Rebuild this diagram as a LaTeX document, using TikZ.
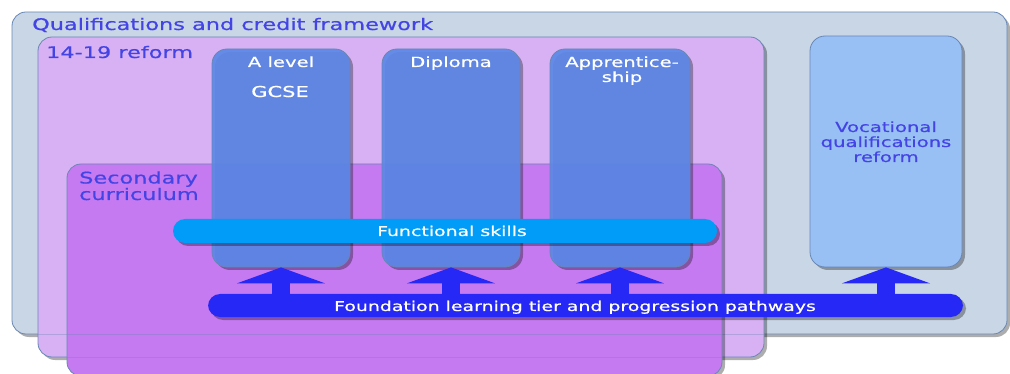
\documentclass[tikz,border=0pt]{standalone}
\usepackage{fontspec}
\usetikzlibrary{positioning,shadows,arrows.meta}

\newfontfamily\diagfont[FakeStretch=1.4,FakeBold=0.6]{DejaVu Sans}

\definecolor{qcfcol}{RGB}{201,214,230}
\definecolor{qcfline}{RGB}{105,135,180}
\definecolor{reformcol}{RGB}{216,177,245}
\definecolor{seccol}{RGB}{198,122,241}
\definecolor{quallcol}{RGB}{92,136,232}
\definecolor{voccol}{RGB}{152,192,245}
\definecolor{skillcol}{RGB}{0,156,247}
\definecolor{foundcol}{RGB}{38,40,246}
\definecolor{labelcol}{RGB}{68,68,228}

\begin{document}
\begin{tikzpicture}[x=1pt,y=-1pt,
    shade box/.style={drop shadow={shadow xshift=3pt,shadow yshift=-3pt,fill=black,opacity=0.32}},
    box/.style={draw=qcfline,line width=0.8pt,rounded corners=14pt,shade box,inner sep=0pt},
    column/.style={box,fill=quallcol,fill opacity=0.92,rounded corners=15pt,minimum width=138pt,minimum height=218pt},
    bar/.style={rounded corners=12pt,shade box,inner sep=0pt,minimum height=24pt},
    uparrow/.style={foundcol,line width=18pt,-{Triangle[width=88pt,length=16pt]}},
    txt/.style={font=\diagfont\fontsize{14}{15}\selectfont,inner sep=0pt},
    bluetxt/.style={txt,text=labelcol},
    whitetxt/.style={txt,text=white}]
  \useasboundingbox (0,0) rectangle (1010,374);

  % nested frameworks
  \node[box,fill=qcfcol,minimum width=995pt,minimum height=322pt] (qcf) at (509.5,173) {};
  \node[box,fill=reformcol,minimum width=726pt,minimum height=320pt] (reform) at (401,197) {};
  \draw[qcfline,opacity=0.35] (reform.west |- qcf.south) -- (reform.east |- qcf.south);
  \node[box,fill=seccol,minimum width=655pt,minimum height=212pt] (second) at (394.5,270) {};
  \draw[qcfline,opacity=0.35] (second.west |- reform.south) -- (second.east |- reform.south);
  \draw[qcfline,opacity=0.35] (second.west |- qcf.south) -- (second.east |- qcf.south);

  % qualification columns
  \node[column] (alevel) at (281,158) {};
  \node[column] (diploma) at (451,158) {};
  \node[column,minimum width=140pt] (apprent) at (620,158) {};
  \node[box,fill=voccol,rounded corners=15pt,minimum width=152pt,minimum height=231pt] (vocation) at (886,151.5) {};

  % cross-cutting bars
  \node[bar,fill=skillcol,minimum width=544pt] (skills) at (445,231) {};
  \node[bar,fill=foundcol,minimum width=755pt,minimum height=23pt] (found) at (585.5,305.5) {};

  \foreach \col in {alevel,diploma,apprent,vocation}
    \draw[uparrow] (found.north -| \col.south) -- (\col.south);

  % labels (base of a multi-line label is its last line)
  \node[bluetxt,anchor=base west,font=\diagfont\fontsize{16}{16}\selectfont] (qcflabel) at (32,30) {Qualifications and credit framework};
  \node[bluetxt,anchor=base west,font=\diagfont\fontsize{16}{16}\selectfont] (reformlabel) at (46,58) {14-19 reform};
  \node[bluetxt,anchor=base west,align=left,font=\diagfont\fontsize{16}{15}\selectfont] (seclabel) at (79,200) {Secondary\\curriculum};
  \node[whitetxt,anchor=base] (alevellabel) at (281,67) {A level};
  \node[whitetxt,anchor=base,font=\diagfont\fontsize{15}{15}\selectfont] (gcselabel) at (280,97) {GCSE};
  \node[whitetxt,anchor=base] (diplomalabel) at (451,67) {Diploma};
  \node[whitetxt,anchor=base,align=center] (apprentlabel) at (622,82) {Apprentice-\\ship};
  \node[bluetxt,anchor=base,align=center] (voclabel) at (886,162) {Vocational\\qualifications\\reform};
  \node[whitetxt,anchor=base,font=\diagfont\fontsize{13.5}{15}\selectfont] (skillslabel) at (452,236) {Functional skills};
  \node[whitetxt,anchor=base,font=\diagfont\fontsize{13.5}{15}\selectfont] (foundlabel) at (575,311) {Foundation learning tier and progression pathways};
\end{tikzpicture}
\end{document}
